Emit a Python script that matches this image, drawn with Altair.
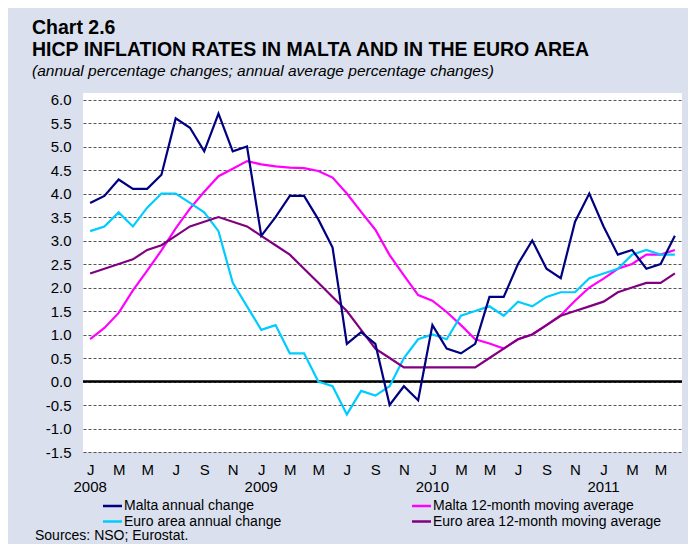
import altair as alt
import pandas as pd

FONT = "Liberation Sans"

month_letters = ["J", "F", "M", "A", "M", "J", "J", "A", "S", "O", "N", "D"]
year_labels = ["2008", "2009", "2010", "2011"]
year_months = [0, 12, 24, 36]

series_names = [
    "Malta annual change",
    "Malta 12-month moving average",
    "Euro area annual change",
    "Euro area 12-month moving average",
]
series_colors = ["#000080", "#FF00FF", "#00CCFF", "#800080"]

# Jan 2008 .. Jun 2011 (42 months)
malta_annual = [3.8, 3.95, 4.3, 4.1, 4.1, 4.4, 5.6, 5.4, 4.9, 5.7, 4.9, 5.0,
                3.1, 3.5, 3.95, 3.95, 3.45, 2.85, 0.8, 1.05, 0.8, -0.5, -0.1, -0.4,
                1.2, 0.7, 0.6, 0.8, 1.8, 1.8, 2.5, 3.0, 2.4, 2.2, 3.4, 4.0,
                3.3, 2.7, 2.8, 2.4, 2.5, 3.1]
malta_ma = [0.9, 1.14, 1.46, 1.94, 2.36, 2.79, 3.26, 3.68, 4.04, 4.37, 4.53, 4.69,
            4.62, 4.58, 4.55, 4.54, 4.48, 4.34, 4.0, 3.61, 3.23, 2.69, 2.26, 1.84,
            1.72, 1.48, 1.2, 0.9, 0.81, 0.7, 0.9, 1.0, 1.2, 1.41, 1.72, 2.0,
            2.19, 2.4, 2.5, 2.7, 2.7, 2.8]
euro_annual = [3.2, 3.3, 3.6, 3.3, 3.7, 4.0, 4.0, 3.8, 3.6, 3.2, 2.1, 1.6,
               1.1, 1.2, 0.6, 0.6, 0.0, -0.1, -0.7, -0.2, -0.3, -0.1, 0.5, 0.9,
               1.0, 0.9, 1.4, 1.5, 1.6, 1.4, 1.7, 1.6, 1.8, 1.9, 1.9, 2.2,
               2.3, 2.4, 2.7, 2.8, 2.7, 2.7]
euro_ma = [2.3, 2.4, 2.5, 2.6, 2.8, 2.9, 3.1, 3.3, 3.4, 3.5, 3.4, 3.3,
           3.1, 2.9, 2.7, 2.4, 2.1, 1.8, 1.5, 1.1, 0.7, 0.5, 0.3, 0.3,
           0.3, 0.3, 0.3, 0.3, 0.5, 0.7, 0.9, 1.0, 1.2, 1.4, 1.5, 1.6,
           1.7, 1.9, 2.0, 2.1, 2.1, 2.3]

y_ticks = [-1.5, -1.0, -0.5, 0.0, 0.5, 1.0, 1.5, 2.0, 2.5, 3.0, 3.5, 4.0, 4.5, 5.0, 5.5, 6.0]

title_lines = ["Chart 2.6", "HICP INFLATION RATES IN MALTA AND IN THE EURO AREA"]
subtitle = "(annual percentage changes; annual average percentage changes)"
source_text = "Sources: NSO; Eurostat."

rows = []
for name, vals in zip(series_names, [malta_annual, malta_ma, euro_annual, euro_ma]):
    for i, v in enumerate(vals):
        rows.append({"series": name, "m": i, "value": v})
df = pd.DataFrame(rows)

W, H = 599, 359
xscale = alt.Scale(domain=[-0.5, 41.5], nice=False, zero=False)
yscale = alt.Scale(domain=[-1.5, 6.14], nice=False, zero=False)
color = alt.Color("series:N", scale=alt.Scale(domain=series_names, range=series_colors), legend=None)

label_expr = "[" + ",".join("'%s'" % c for c in month_letters) + "][datum.value % 12]"

x_axis = alt.Axis(values=list(range(0, 42, 2)), labelExpr=label_expr, title=None, grid=False,
                  ticks=False, domain=False, labelPadding=10, labelFontSize=15, labelColor="black",
                  labelFont=FONT, labelAngle=0)
y_axis = alt.Axis(values=y_ticks, labelExpr="replace(format(datum.value, '.1f'), '\u2212', '-')",
                  title=None, grid=True, gridDash=[3, 2], gridColor="#555555", gridWidth=1,
                  ticks=False, domain=False, labelPadding=12, labelFontSize=15, labelColor="black",
                  labelFont=FONT)

X = alt.X("m:Q", scale=xscale, axis=x_axis)
Y = alt.Y("value:Q", scale=yscale, axis=y_axis)

zero = alt.Chart(pd.DataFrame({"m": [0], "value": [0.0]})).mark_rule(color="black", strokeWidth=2.5).encode(
    y=Y,
)

layers = [zero]
draw_order = [1, 2, 3, 0]
for k in draw_order:
    name = series_names[k]
    layers.append(
        alt.Chart(df).transform_filter(alt.datum.series == name).mark_line(strokeWidth=2.2).encode(
            x=X, y=Y, color=color,
        )
    )

years = alt.Chart(pd.DataFrame({"m": year_months, "label": year_labels})).mark_text(
    fontSize=15, font=FONT, baseline="middle", color="black"
).encode(x=X, y=alt.value(394), text="label:N")
layers.append(years)

# legend (manual)
leg_pos = [(20, 413), (329, 413), (20, 428.5), (329, 428.5)]
for name, (lx, ly) in zip(series_names, leg_pos):
    d = pd.DataFrame({"series": [name]})
    layers.append(alt.Chart(d).mark_rule(strokeWidth=2.5).encode(
        x=alt.value(lx), x2=alt.value(lx + 19), y=alt.value(ly), color=color))
    layers.append(alt.Chart(d).mark_text(align="left", baseline="middle", fontSize=14, font=FONT, color="black").encode(
        x=alt.value(lx + 21), y=alt.value(ly), text="series:N"))

# titles & source
TX = -51
layers.append(alt.Chart(pd.DataFrame({"t": [title_lines[0]]})).mark_text(
    align="left", baseline="alphabetic", fontSize=19.5, fontWeight="bold", font=FONT, color="black"
).encode(x=alt.value(TX), y=alt.value(-59), text="t:N"))
layers.append(alt.Chart(pd.DataFrame({"t": [title_lines[1]]})).mark_text(
    align="left", baseline="alphabetic", fontSize=19.5, fontWeight="bold", font=FONT, color="black"
).encode(x=alt.value(TX), y=alt.value(-37), text="t:N"))
layers.append(alt.Chart(pd.DataFrame({"t": [subtitle]})).mark_text(
    align="left", baseline="alphabetic", fontSize=15.5, fontStyle="italic", font=FONT, color="black"
).encode(x=alt.value(TX), y=alt.value(-17), text="t:N"))
layers.append(alt.Chart(pd.DataFrame({"t": [source_text]})).mark_text(
    align="left", baseline="middle", fontSize=14, font=FONT, color="black"
).encode(x=alt.value(-48), y=alt.value(443), text="t:N"))

chart = alt.layer(*layers).properties(
    width=W, height=H,
    autosize=alt.AutoSizeParams(type="none"),
    padding={"left": 75, "top": 85, "right": 6, "bottom": 92},
    background="#DAE0EE",
).configure_view(fill="white", stroke=None)

chart.save("out.html", embed_options={"renderer": "svg", "actions": False})
